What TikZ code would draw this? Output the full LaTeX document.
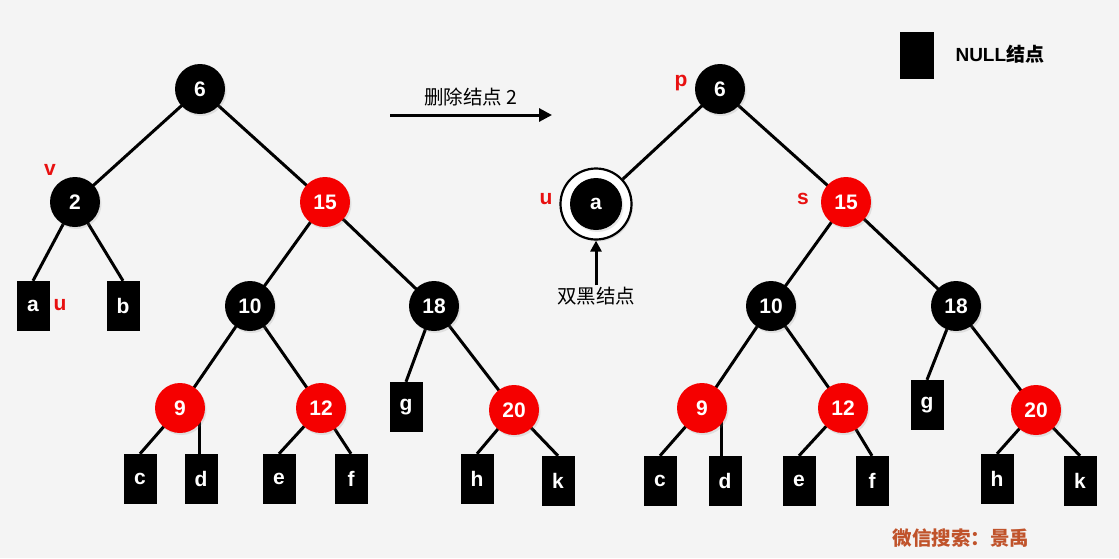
\documentclass[tikz,border=0pt]{standalone}
\usepackage{fontspec}
\setmainfont{Liberation Sans}
\newfontfamily\cjk{Noto Sans CJK SC}
\usetikzlibrary{arrows.meta,shadows}
\definecolor{bg}{HTML}{F4F4F4}
\definecolor{nred}{HTML}{F50000}
\definecolor{lred}{HTML}{E81010}
\definecolor{wm}{HTML}{C0532B}
\tikzset{
  nodeshadow/.style={drop shadow={opacity=0.18,shadow xshift=1.5pt,shadow yshift=-2pt}},
  blk/.style={circle,fill=black,minimum size=50pt,inner sep=0pt,text=white,font=\bfseries\fontsize{21}{24}\selectfont,nodeshadow},
  red/.style={circle,fill=nred,minimum size=50pt,inner sep=0pt,text=white,font=\bfseries\fontsize{21}{24}\selectfont,nodeshadow},
  nul/.style={rectangle,fill=black,minimum width=33pt,minimum height=50pt,inner sep=0pt,text=white,font=\bfseries\fontsize{21}{24}\selectfont},
  edge/.style={line width=3pt,black},
  lbl/.style={text=lred,font=\bfseries\fontsize{21}{24}\selectfont},
  cjklbl/.style={font=\cjk\fontsize{19.5}{22}\selectfont}
}
\begin{document}
\begin{tikzpicture}[x=1pt,y=-1pt]
\fill[bg] (0,0) rectangle (1119,558);
\useasboundingbox (0,0) rectangle (1119,558);
% ---------- left tree ----------
\node[nul] (La) at (33,306) {a};
\node[nul] (Lb) at (123,306) {b};
\node[nul] (Lc) at (140,479) {c};
\node[nul] (Ld) at (201,479) {d};
\node[nul] (Le) at (279,479) {e};
\node[nul] (Lf) at (351,479) {f};
\node[nul] (Lg) at (406,407) {g};
\node[nul] (Lh) at (477,479) {h};
\node[nul] (Lk) at (558,481) {k};
\coordinate (L6c) at (200,89);
\coordinate (L2c) at (75,202);
\coordinate (L15c) at (325,202);
\coordinate (L10c) at (250,306);
\coordinate (L18c) at (434,306);
\coordinate (L9c) at (180,408);
\coordinate (L12c) at (321,408);
\coordinate (L20c) at (514,410);
\draw[edge] (L6c) -- (L2c);
\draw[edge] (L6c) -- (L15c);
\draw[edge] (L2c) -- (La.north);
\draw[edge] (L2c) -- (Lb.north);
\draw[edge] (L15c) -- (L10c);
\draw[edge] (L15c) -- (L18c);
\draw[edge] (L10c) -- (L9c);
\draw[edge] (L10c) -- (L12c);
\draw[edge] (L9c) -- (Lc.north);
\draw[edge] ([xshift=19pt]L9c) coordinate (L9d) -- (L9d |- Ld.north);
\draw[edge] (L12c) -- (Le.north);
\draw[edge] (L12c) -- (Lf.north);
\draw[edge] (L18c) -- (Lg.north);
\draw[edge] (L18c) -- (L20c);
\draw[edge] (L20c) -- (Lh.north);
\draw[edge] (L20c) -- (Lk.north);
\node[blk] (L6) at (L6c) {6};
\node[blk] (L2) at (L2c) {2};
\node[red] (L15) at (L15c) {15};
\node[blk] (L10) at (L10c) {10};
\node[blk] (L18) at (L18c) {18};
\node[red] (L9) at (L9c) {9};
\node[red] (L12) at (L12c) {12};
\node[red] (L20) at (L20c) {20};
\node[lbl] (lv) at (50,170) {v};
\node[lbl] (lu) at (60,305) {u};
% ---------- arrow ----------
\coordinate (arA) at (390,115);
\coordinate (arB) at (552,115);
\draw[line width=3pt,-{Triangle[length=13pt,width=13pt]}] (arA) -- (arB);
\node[cjklbl] (artxt) at (471,97) {删除结点 2};
% ---------- right tree ----------
\node[nul] (Rc) at (660,481) {c};
\node[nul] (Rd) at (725,481) {d};
\node[nul] (Re) at (799,481) {e};
\node[nul] (Rf) at (872,481) {f};
\node[nul] (Rg) at (927,405) {g};
\node[nul] (Rh) at (997,479) {h};
\node[nul] (Rk) at (1080,481) {k};
\coordinate (R6c) at (720,89);
\coordinate (Rac) at (596,204);
\coordinate (R15c) at (846,202);
\coordinate (R10c) at (771,306);
\coordinate (R18c) at (956,306);
\coordinate (R9c) at (702,408);
\coordinate (R12c) at (843,408);
\coordinate (R20c) at (1036,410);
\node[circle,draw=black,fill=white,line width=2.2pt,minimum size=71pt,inner sep=0pt,nodeshadow] (Rring) at (Rac) {};
\draw[edge] (R6c) -- (Rring);
\draw[edge] (R6c) -- (R15c);
\draw[edge] (R15c) -- (R10c);
\draw[edge] (R15c) -- (R18c);
\draw[edge] (R10c) -- (R9c);
\draw[edge] (R10c) -- (R12c);
\draw[edge] (R9c) -- (Rc.north);
\draw[edge] ([xshift=19pt]R9c) coordinate (R9d) -- (R9d |- Rd.north);
\draw[edge] (R12c) -- (Re.north);
\draw[edge] (R12c) -- (Rf.north);
\draw[edge] (R18c) -- (Rg.north);
\draw[edge] (R18c) -- (R20c);
\draw[edge] (R20c) -- (Rh.north);
\draw[edge] (R20c) -- (Rk.north);
\node[blk] (R6) at (R6c) {6};
\node[blk,minimum size=52pt] (Ra) at (Rac) {a};
\node[red] (R15) at (R15c) {15};
\node[blk] (R10) at (R10c) {10};
\node[blk] (R18) at (R18c) {18};
\node[red] (R9) at (R9c) {9};
\node[red] (R12) at (R12c) {12};
\node[red] (R20) at (R20c) {20};
\node[lbl] (rp) at (681,83) {p};
\node[lbl] (rs) at (803,199) {s};
\node[lbl] (ru) at (546,199) {u};
\node[cjklbl] (dbtxt) at (596,296) {双黑结点};
\draw[line width=3pt,-{Triangle[length=11pt,width=11pt]}] ([yshift=-2pt]dbtxt.north) coordinate (dbA) -- (Rring.south);
% ---------- legend ----------
\node[nul,minimum width=34pt,minimum height=47pt] (leg) at (917,55) {};
\node[font=\bfseries\fontsize{19}{22}\selectfont,anchor=west] (legtxt) at (952,54) {NULL{\cjk 结点}};
% ---------- watermark ----------
\node[text=wm,font=\cjk\bfseries\fontsize{19.5}{22}\selectfont] (wmk) at (961,538) {微信搜索：景禹};
\end{tikzpicture}
\end{document}
